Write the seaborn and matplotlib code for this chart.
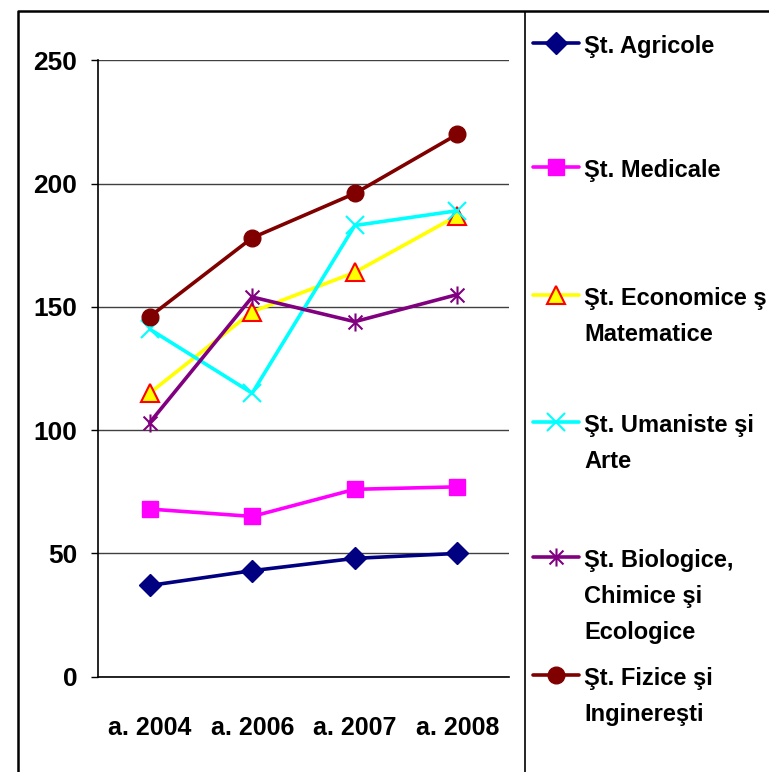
import numpy as np
import pandas as pd
import matplotlib
matplotlib.use("Agg")
import matplotlib.pyplot as plt
from matplotlib.path import Path
import seaborn as sns

# data
years = ["a. 2004", "a. 2006", "a. 2007", "a. 2008"]
agricole = [37, 43, 48, 50]
medicale = [68, 65, 76, 77]
economice = [115, 148, 164, 187]
umaniste = [141, 115, 183, 189]
biologice = [103, 154, 144, 155]
fizice = [146, 178, 196, 220]

labels = [
    "Şt. Agricole",
    "Şt. Medicale",
    "Şt. Economice ş\nMatematice",
    "Şt. Umaniste şi\nArte",
    "Şt. Biologice,\nChimice şi\nEcologice",
    "Şt. Fizice şi\nInginereşti",
]
yticks = [0, 50, 100, 150, 200, 250]

W, H = 769, 772

sns.set_style("white")
plt.rcParams["font.family"] = ["Liberation Sans", "DejaVu Sans"]
plt.rcParams["font.weight"] = "bold"
plt.rcParams["text.color"] = "black"
plt.rcParams["xtick.color"] = "black"
plt.rcParams["ytick.color"] = "black"

# asterisk marker like Excel's: X plus vertical bar
star = Path([(-1, -1), (1, 1), (-1, 1), (1, -1), (0, -1.3), (0, 1.3)],
            [Path.MOVETO, Path.LINETO] * 3)

styles = [
    dict(color="#000080", marker="D", ms=11, mfc="#000080", mec="#000080", mew=1),
    dict(color="#FF00FF", marker="s", ms=11, mfc="#FF00FF", mec="#FF00FF", mew=1),
    dict(color="#FFFF00", marker="^", ms=13, mfc="#FFFF00", mec="#FF0000", mew=1.5),
    dict(color="#00FFFF", marker="x", ms=13, mfc="none", mec="#00FFFF", mew=1.5),
    dict(color="#800080", marker=star, ms=13, mfc="none", mec="#800080", mew=1.5),
    dict(color="#800000", marker="o", ms=12, mfc="#800000", mec="#800000", mew=1),
]

series = [agricole, medicale, economice, umaniste, biologice, fizice]
df = pd.DataFrame({
    "year": years * len(series),
    "value": np.concatenate(series),
    "field": np.repeat(labels, len(years)),
})

fig = plt.figure(figsize=(W / 100, H / 100), dpi=100)
ax = fig.add_axes([98.3 / W, 1 - 676.7 / H, (508.7 - 98.3) / W, (676.7 - 60.3) / H])

for lab, st in zip(labels, styles):
    sns.lineplot(data=df[df["field"] == lab], x="year", y="value", ax=ax,
                 sort=False, lw=2.6, legend=False, clip_on=False, **st)

ax.set_xlim(-0.5, 3.5)
ax.set_ylim(0, 250)
ax.set_yticks(yticks)
ax.set_yticklabels([str(v) for v in yticks], fontsize=19, fontweight="bold", color="black")
ax.set_xticks(range(len(years)))
ax.set_xticklabels(years, fontsize=18, fontweight="bold", color="black")
ax.set_xticks(np.arange(-0.5, 4, 1), minor=True)
ax.tick_params(axis="x", which="major", length=0, pad=28)
ax.tick_params(axis="x", which="minor", length=7, width=1, direction="out", color="black")
ax.tick_params(axis="y", length=5, width=1, direction="out", color="black", pad=10, left=True)
ax.set_xlabel("")
ax.set_ylabel("")
ax.grid(axis="y", color="#404040", lw=1)
ax.set_axisbelow(True)
for s in ["top", "right"]:
    ax.spines[s].set_visible(False)
for s in ["left", "bottom"]:
    ax.spines[s].set_color("black")
    ax.spines[s].set_linewidth(1.2)

# overlay in pixel coordinates for the frame and the legend
lax = fig.add_axes([0, 0, 1, 1], zorder=-1)
lax.set_xlim(0, W)
lax.set_ylim(H, 0)
lax.axis("off")
lax.plot([18, 18, W + 5], [H + 5, 11, 11], color="black", lw=1.8)
lax.plot([525, 525], [12, H + 5], color="black", lw=1.2)

baselines = [53, 177, 305, 432, 567, 685]
line_gap = 36
for lab, st, yb in zip(labels, styles, baselines):
    yc = yb - 10
    lax.plot([533, 579], [yc, yc], color=st["color"], lw=2.6)
    mk = {k: v for k, v in st.items() if k != "color"}
    lax.plot([556], [yc], linestyle="none", **mk)
    for i, part in enumerate(lab.split("\n")):
        lax.text(584, yb + i * line_gap, part, fontsize=17, fontweight="bold",
                 color="black", va="baseline", ha="left", clip_on=False)

fig.savefig("out.png", dpi=100)
